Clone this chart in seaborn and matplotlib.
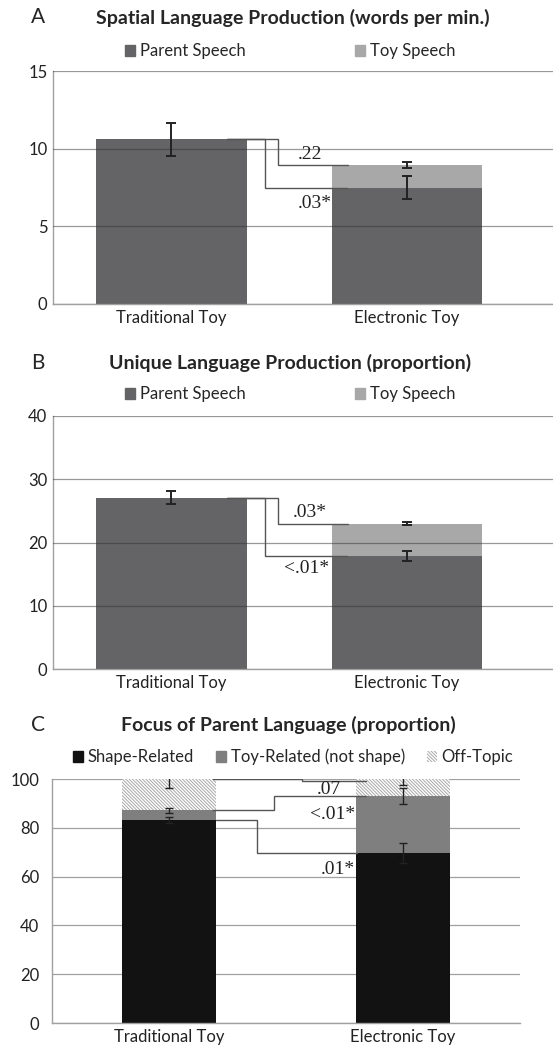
import matplotlib

matplotlib.use("Agg")

import matplotlib.pyplot as plt
import seaborn as sns
from matplotlib.patches import Patch

categories = ["Traditional Toy", "Electronic Toy"]

# A: spatial language (words per min.)
spatial_parent = [10.6, 7.5]
spatial_toy = [0.0, 1.45]
spatial_parent_err = [1.05, 0.75]
spatial_toy_err = [0.0, 0.2]

# B: unique language (proportion)
unique_parent = [27.1, 17.9]
unique_toy = [0.0, 5.1]
unique_parent_err = [1.05, 0.75]
unique_toy_err = [0.0, 0.2]

# C: focus of parent language (proportion)
shape_related = [83.3, 69.7]
toy_related = [3.8, 23.2]
off_topic = [12.9, 7.1]
shape_err = [1.3, 4.1]
toy_related_err = [1.2, 3.3]
off_topic_err = [3.7, 2.4]

W, H = 553, 1051
PARENT = "#646466"
TOY = "#a8a8a8"
HATCH = "\\" * 10
SANS = ["Lato", "DejaVu Sans"]
SERIF = ["Liberation Serif", "DejaVu Serif"]

sns.set_style("white")
plt.rcParams["font.family"] = SANS
plt.rcParams["hatch.linewidth"] = 0.7


def rect(left, top, right, bottom):
    return [left / W, 1 - bottom / H, (right - left) / W, (bottom - top) / H]


def fig_text(fig, px, py, s, **kw):
    fig.text(px / W, 1 - py / H, s, ha="center", va="center", **kw)


def style_axes(ax, ymax, step, on_top, ticks_out):
    ax.set_ylim(0, ymax)
    ax.set_yticks(range(0, ymax + 1, step))
    ax.set_axisbelow(not on_top)
    ax.yaxis.grid(True, color="#333333" if on_top else "#a0a0a0",
                  alpha=0.5 if on_top else 1.0, lw=0.9)
    for s in ["top", "right"]:
        ax.spines[s].set_visible(False)
    for s in ["left", "bottom"]:
        ax.spines[s].set_color("#a0a0a0")
        ax.spines[s].set_linewidth(1.0)
    ax.set_xlabel("")
    ax.set_ylabel("")
    ax.tick_params(axis="both", labelsize=12, colors="#222222",
                   length=4 if ticks_out else 0, pad=4)
    ax.tick_params(axis="both", color="#a0a0a0")


def bracket(ax, x0, xs, x1, y0, y1, label, lx, ly):
    ax.plot([x0, xs, xs, x1], [y0, y0, y1, y1], color="#555555", lw=1.0,
            solid_joinstyle="miter", zorder=6)
    ax.text(lx, ly, label, ha="center", va="center", fontsize=14,
            family=SERIF, color="#222222", zorder=6)


def two_part_panel(ax, parent, toy, parent_err, toy_err, ymax, step,
                   labels):
    sns.barplot(x=categories, y=parent, color=PARENT, saturation=1,
                width=0.64, errorbar=None, linewidth=0, ax=ax)
    sns.barplot(x=categories, y=toy, color=TOY, saturation=1, width=0.64,
                errorbar=None, linewidth=0, bottom=parent, ax=ax)
    totals = [p + t for p, t in zip(parent, toy)]
    ekw = dict(fmt="none", ecolor="#222222", elinewidth=1.4, capsize=3.5,
               capthick=1.4, zorder=5)
    ax.errorbar([0, 1], parent, yerr=parent_err, **ekw)
    ax.errorbar([1], [totals[1]], yerr=[toy_err[1]], **ekw)
    style_axes(ax, ymax, step, on_top=True, ticks_out=False)
    ax.set_xlim(-0.503, 1.62)
    lab_hi, lab_lo = labels
    bracket(ax, 0.236, 0.452, 0.749, totals[0], totals[1], *lab_hi)
    bracket(ax, 0.236, 0.397, 0.745, parent[0], parent[1], *lab_lo)
    ax.legend(handles=[Patch(color=PARENT, label="Parent Speech"),
                       Patch(color=TOY, label="Toy Speech")],
              ncol=2, frameon=False, fontsize=12, handlelength=0.6,
              handleheight=0.6, handletextpad=0.3, columnspacing=6.6,
              loc="center left", bbox_to_anchor=(0.13, 1.085),
              borderaxespad=0)


fig = plt.figure(figsize=(W / 100, H / 100), dpi=100)

# ---- Panel A
ax_a = fig.add_axes(rect(53, 71, 553, 304))
two_part_panel(ax_a, spatial_parent, spatial_toy, spatial_parent_err,
               spatial_toy_err, 15, 5,
               ((".22", 0.588, 9.6), (".03*", 0.609, 6.5)))
fig_text(fig, 38, 17, "A", fontsize=15)
fig_text(fig, 293, 18, "Spatial Language Production (words per min.)",
         fontsize=14, fontweight="bold")

# ---- Panel B
ax_b = fig.add_axes(rect(53, 416, 553, 669))
two_part_panel(ax_b, unique_parent, unique_toy, unique_parent_err,
               unique_toy_err, 40, 10,
               ((".03*", 0.588, 24.8), ("<.01*", 0.575, 15.9)))
fig_text(fig, 38, 363, "B", fontsize=15)
fig_text(fig, 290, 363, "Unique Language Production (proportion)",
         fontsize=14, fontweight="bold")

# ---- Panel C
ax_c = fig.add_axes(rect(52, 779, 520, 1023))
middle = [s + t for s, t in zip(shape_related, toy_related)]
sns.barplot(x=categories, y=shape_related, color="#121212", saturation=1,
            width=0.4, errorbar=None, linewidth=0, ax=ax_c)
sns.barplot(x=categories, y=toy_related, color="#7f7f7f", saturation=1,
            width=0.4, errorbar=None, linewidth=0, bottom=shape_related,
            ax=ax_c)
sns.barplot(x=categories, y=off_topic, color="white", saturation=1,
            width=0.4, errorbar=None, linewidth=0, bottom=middle, ax=ax_c)
for p in ax_c.patches[-2:]:
    p.set_hatch(HATCH)
    p.set_edgecolor("#a8a8a8")
    p.set_linewidth(0)

tops = [m + o for m, o in zip(middle, off_topic)]
ekw = dict(fmt="none", ecolor="#222222", elinewidth=1.0, capsize=3,
           capthick=1.0, zorder=5)
ax_c.errorbar([0, 1], shape_related, yerr=shape_err, **ekw)
ax_c.errorbar([0, 1], middle, yerr=toy_related_err, **ekw)
ax_c.errorbar([0, 1], tops, yerr=off_topic_err, **ekw)

style_axes(ax_c, 100, 20, on_top=False, ticks_out=True)
ax_c.set_xlim(-0.5, 1.5)
ax_c.set_xticks([-0.5, 0.5, 1.5], minor=True)
ax_c.tick_params(axis="x", which="major", length=0)
ax_c.tick_params(axis="x", which="minor", length=5, color="#a0a0a0")
ax_c.tick_params(axis="y", length=5, color="#a0a0a0")

bracket(ax_c, 0.187, 0.570, 0.841, tops[0], tops[1] - 1.0, ".07", 0.682, 95.6)
bracket(ax_c, 0.187, 0.449, 0.841, middle[0], middle[1], "<.01*", 0.699, 85.4)
bracket(ax_c, 0.200, 0.376, 0.802, shape_related[0], shape_related[1],
        ".01*", 0.72, 62.8)

ax_c.legend(handles=[Patch(color="#121212", label="Shape-Related"),
                     Patch(color="#7f7f7f", label="Toy-Related (not shape)"),
                     Patch(facecolor="white", edgecolor="#a8a8a8", lw=0,
                           hatch=HATCH, label="Off-Topic")],
            ncol=3, frameon=False, fontsize=12, handlelength=0.6,
            handleheight=0.6, handletextpad=0.3, columnspacing=1.3,
            loc="center left", bbox_to_anchor=(0.03, 1.09),
            borderaxespad=0)
fig_text(fig, 38, 725, "C", fontsize=15)
fig_text(fig, 288, 725, "Focus of Parent Language (proportion)",
         fontsize=14, fontweight="bold")

fig.savefig("out.png", dpi=100)
